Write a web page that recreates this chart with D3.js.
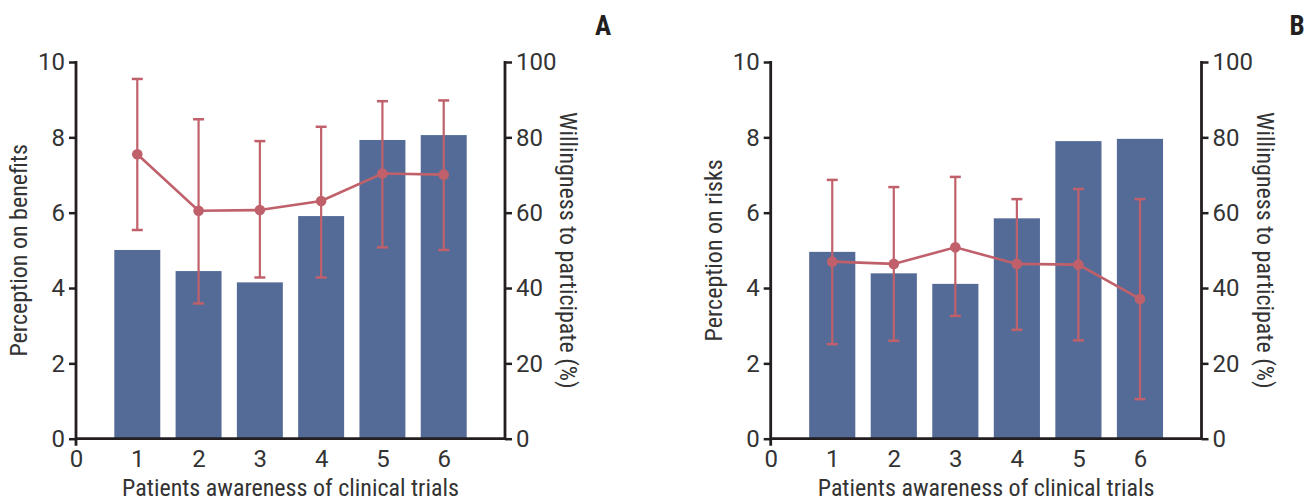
<!DOCTYPE html>
<html><head><meta charset="utf-8">
<script src="https://cdn.jsdelivr.net/npm/d3@7"></script>
<style>
body{margin:0;background:#fff;}
text{font-family:"Liberation Sans Narrow","Arial Narrow","Roboto Condensed",Roboto,sans-serif;}
</style></head>
<body><svg id="c" width="1307" height="503"></svg>
<script>
const categories = [1, 2, 3, 4, 5, 6];
const xTicks = [0, 1, 2, 3, 4, 5, 6];
const leftTicks = [0, 2, 4, 6, 8, 10];
const rightTicks = [0, 20, 40, 60, 80, 100];

const barsA = [5.01, 4.45, 4.15, 5.91, 7.93, 8.06];
const meanA = [75.5, 60.5, 60.7, 63.1, 70.4, 70.1];
const upperA = [95.5, 84.8, 79.0, 82.8, 89.6, 89.8];
const lowerA = [55.4, 35.9, 42.8, 42.8, 50.8, 50.1];

const barsB = [4.96, 4.39, 4.11, 5.85, 7.90, 7.96];
const meanB = [47.0, 46.4, 50.8, 46.4, 46.2, 37.1];
const upperB = [68.7, 66.8, 69.5, 63.6, 66.3, 63.6];
const lowerB = [25.1, 26.0, 32.6, 28.9, 26.1, 10.5];

const panels = [
  {label: "A", yLabel: "Perception on benefits", bars: barsA, mean: meanA, upper: upperA, lower: lowerA, left: 76, right: 505, letterX: 603},
  {label: "B", yLabel: "Perception on risks", bars: barsB, mean: meanB, upper: upperB, lower: lowerB, left: 770.7, right: 1201.5, letterX: 1297}
];

const svg = d3.select("#c");
const yTop = 62, yBottom = 438.7;
const barColor = "#546b98", lineColor = "#c0606a", axisColor = "#231f20", textColor = "#333";
const fs = 24;

panels.forEach(p => {
  const g = svg.append("g");
  const x = d3.scaleLinear().domain([0, 7]).range([p.left, p.right]);
  const yL = d3.scaleLinear().domain([0, 10]).range([yBottom, yTop]);
  const yR = d3.scaleLinear().domain([0, 100]).range([yBottom, yTop]);
  const bw = x(0.75) - x(0);

  g.selectAll("rect.bar").data(categories).enter().append("rect")
    .attr("x", (d) => x(d) - bw / 2)
    .attr("y", (d, i) => yL(p.bars[i]))
    .attr("width", bw)
    .attr("height", (d, i) => yL(0) - yL(p.bars[i]))
    .attr("fill", barColor);

  const cap = 5.5;
  categories.forEach((c, i) => {
    g.append("line").attr("x1", x(c)).attr("x2", x(c)).attr("y1", yR(p.upper[i])).attr("y2", yR(p.lower[i]))
      .attr("stroke", lineColor).attr("stroke-width", 2.2);
    [p.upper[i], p.lower[i]].forEach(v => {
      g.append("line").attr("x1", x(c) - cap).attr("x2", x(c) + cap).attr("y1", yR(v)).attr("y2", yR(v))
        .attr("stroke", lineColor).attr("stroke-width", 2.5);
    });
  });
  const line = d3.line().x((d) => x(d)).y((d, i) => yR(p.mean[i]));
  g.append("path").attr("d", line(categories)).attr("fill", "none").attr("stroke", lineColor).attr("stroke-width", 2.6);
  g.selectAll("circle.pt").data(categories).enter().append("circle")
    .attr("cx", (d) => x(d)).attr("cy", (d, i) => yR(p.mean[i])).attr("r", 5.3).attr("fill", lineColor);

  const fmt = d3.format("d");
  const leftAxis = d3.axisLeft(yL).tickValues(leftTicks).tickFormat(fmt).tickSize(7).tickPadding(4);
  const la = g.append("g").attr("transform", `translate(${p.left},0)`).call(leftAxis);
  const rightAxis = d3.axisRight(yR).tickValues(rightTicks).tickFormat(fmt).tickSize(7).tickPadding(4);
  const ra = g.append("g").attr("transform", `translate(${p.right},0)`).call(rightAxis);
  const bottomAxis = d3.axisBottom(x).tickValues(xTicks).tickFormat(fmt).tickSize(0).tickPadding(11);
  const ba = g.append("g").attr("transform", `translate(0,${yBottom})`).call(bottomAxis);
  [la, ra, ba].forEach(a => {
    a.select(".domain").remove();
    a.selectAll(".tick line").attr("stroke", axisColor).attr("stroke-width", 2.5);
    a.selectAll(".tick text").attr("fill", textColor).style("font-size", fs + "px")
      .style("font-family", '"Liberation Sans Narrow","Arial Narrow",Roboto,sans-serif');
  });
  ba.selectAll(".tick text").attr("dy", "0.71em");
  g.append("line").attr("x1", p.left).attr("x2", p.left).attr("y1", yTop - 1).attr("y2", yBottom + 7)
    .attr("stroke", axisColor).attr("stroke-width", 2.8);
  g.append("line").attr("x1", p.right).attr("x2", p.right).attr("y1", yTop - 1).attr("y2", yBottom + 1)
    .attr("stroke", axisColor).attr("stroke-width", 2.8);
  g.append("line").attr("x1", p.left).attr("x2", p.right).attr("y1", yBottom).attr("y2", yBottom)
    .attr("stroke", axisColor).attr("stroke-width", 2.8);

  g.append("text").attr("x", (p.left + p.right) / 2).attr("y", 496).attr("text-anchor", "middle")
    .attr("fill", textColor).style("font-size", fs + "px").text("Patients awareness of clinical trials");
  g.append("text").attr("transform", `translate(${p.left - 49},${(yTop + yBottom) / 2}) rotate(-90)`)
    .attr("text-anchor", "middle").attr("fill", textColor).style("font-size", fs + "px").text(p.yLabel);
  g.append("text").attr("transform", `translate(${p.right + 55},${(yTop + yBottom) / 2}) rotate(90)`)
    .attr("text-anchor", "middle").attr("fill", textColor).style("font-size", fs + "px").text("Willingness to participate (%)");
  g.append("text").attr("x", p.letterX).attr("y", 35).attr("text-anchor", "middle")
    .attr("fill", axisColor).style("font-size", "27px").style("font-weight", "bold").text(p.label);
});
</script></body></html>
